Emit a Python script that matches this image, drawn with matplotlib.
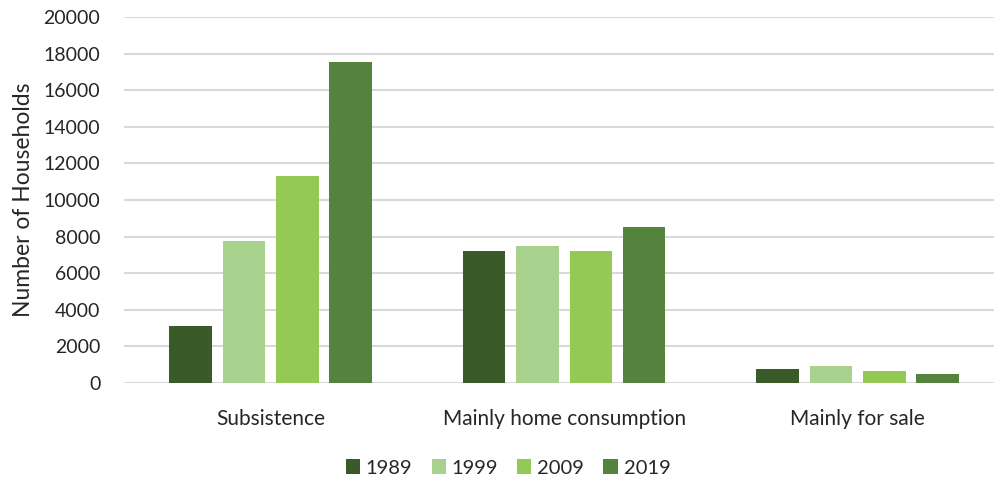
import numpy as np
import matplotlib.pyplot as plt

categories = ["Subsistence", "Mainly home consumption", "Mainly for sale"]
years = ["1989", "1999", "2009", "2019"]
v1989 = [3100, 7200, 770]
v1999 = [7780, 7480, 910]
v2009 = [11300, 7200, 620]
v2019 = [17550, 8500, 475]
colors = ["#3b5a29", "#a9d18e", "#94c955", "#53833c"]

plt.rcParams['font.family'] = ['Lato', 'DejaVu Sans']
txt = "#262626"

fig = plt.figure(figsize=(9.95, 4.88), dpi=100)
ax = fig.add_axes([124/995, 1 - 382.7/488, 871/995, 365.4/488])

x = np.arange(len(categories))
step = 0.1817
width = 0.145
for i, (vals, yr) in enumerate(zip([v1989, v1999, v2009, v2019], years)):
    ax.bar(x + (i - 1.5)*step, vals, width, color=colors[i], label=yr, zorder=3)

ax.set_xlim(-0.5, 2.468)
ax.set_ylim(0, 20000)
ax.set_yticks(np.arange(0, 20001, 2000))
ax.set_yticklabels([str(v) for v in range(0, 20001, 2000)])
ax.set_xticks(x)
ax.set_xticklabels(categories, fontsize=15)
ax.tick_params(axis='both', length=0, colors=txt)
ax.tick_params(axis='y', labelsize=14, pad=17)
ax.tick_params(axis='x', pad=19)
ax.grid(axis='y', color='#d9d9d9', linewidth=1.5, zorder=0)
for s in ax.spines.values():
    s.set_visible(False)

ax.set_ylabel("Number of Households", fontsize=16.5, color=txt, labelpad=7)

fig.legend(loc='center', bbox_to_anchor=(508/995, 1 - 468/488), ncol=4,
           frameon=False, fontsize=14.5, handlelength=0.7, handleheight=0.7,
           handletextpad=0.3, columnspacing=0.95, labelcolor=txt)

fig.savefig("out.png", dpi=100)
